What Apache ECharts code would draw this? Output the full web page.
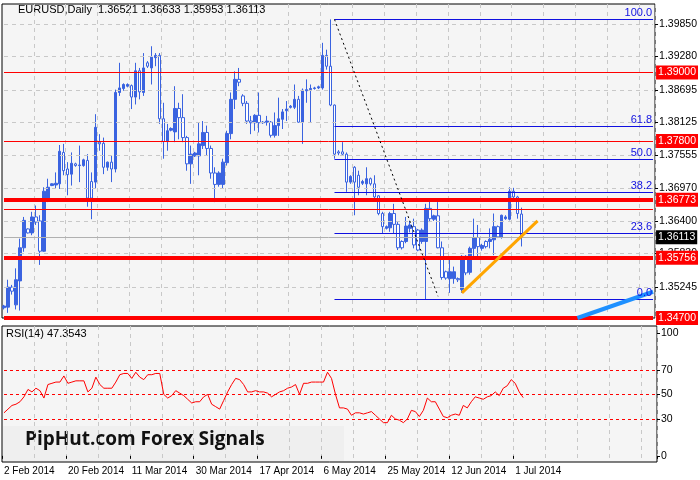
<!DOCTYPE html>
<html>
<head>
<meta charset="utf-8">
<script src="https://cdn.jsdelivr.net/npm/echarts@6/dist/echarts.min.js"></script>
<style>html,body{margin:0;padding:0;background:#fff}#c{width:700px;height:480px}</style>
</head>
<body>
<div id="c"></div>
<script>
// EURUSD daily, [open, close, low, high]
var candles = [
[1.3488,1.3491,1.3485,1.3493],[1.3489,1.3524,1.3479,1.3537],[1.3524,1.3517,1.3511,1.3528],[1.3493,1.3537,1.3485,1.3557],
[1.3535,1.3593,1.3483,1.3609],[1.3593,1.3641,1.3586,1.3647],[1.3626,1.3619,1.3618,1.3627],[1.3619,1.3647,1.3615,1.3656],
[1.3647,1.3638,1.3633,1.3667],[1.3640,1.3587,1.3563,1.3650],[1.3587,1.3692,1.3586,1.3699],[1.3679,1.3699,1.3673,1.3714],
[1.3702,1.3705,1.3701,1.3706],[1.3703,1.3706,1.3696,1.3725],[1.3705,1.3762,1.3696,1.3773],[1.3760,1.3728,1.3720,1.3775],
[1.3731,1.3721,1.3685,1.3743],[1.3722,1.3741,1.3702,1.3760],[1.3740,1.3737,1.3735,1.3742],[1.3737,1.3738,1.3708,1.3772],
[1.3737,1.3747,1.3735,1.3749],[1.3746,1.3680,1.3665,1.3757],[1.3709,1.3680,1.3643,1.3725],[1.3708,1.3804,1.3696,1.3827],
[1.3778,1.3775,1.3763,1.3792],[1.3776,1.3734,1.3722,1.3786],[1.3734,1.3743,1.3728,1.3744],[1.3743,1.3731,1.3708,1.3754],
[1.3731,1.3865,1.3725,1.3870],[1.3865,1.3873,1.3859,1.3917],[1.3872,1.3879,1.3868,1.3881],[1.3876,1.3879,1.3874,1.3881],
[1.3877,1.3857,1.3836,1.3879],[1.3857,1.3903,1.3844,1.3917],[1.3903,1.3866,1.3853,1.3908],[1.3865,1.3908,1.3859,1.3934],
[1.3917,1.3911,1.3908,1.3920],[1.3908,1.3927,1.3879,1.3946],[1.3926,1.3930,1.3911,1.3934],[1.3930,1.3819,1.3810,1.3934],
[1.3819,1.3779,1.3749,1.3847],[1.3779,1.3798,1.3763,1.3810],[1.3799,1.3802,1.3797,1.3804],[1.3796,1.3837,1.3778,1.3876],
[1.3837,1.3821,1.3783,1.3847],[1.3821,1.3786,1.3778,1.3862],[1.3786,1.3740,1.3728,1.3789],[1.3740,1.3757,1.3705,1.3772],
[1.3754,1.3759,1.3752,1.3761],[1.3754,1.3775,1.3720,1.3812],[1.3772,1.3795,1.3766,1.3815],[1.3795,1.3767,1.3754,1.3807],
[1.3767,1.3724,1.3714,1.3772],[1.3724,1.3704,1.3673,1.3734],[1.3704,1.3724,1.3700,1.3727],[1.3704,1.3743,1.3696,1.3749],
[1.3742,1.3793,1.3737,1.3798],[1.3793,1.3853,1.3783,1.3865],[1.3853,1.3888,1.3836,1.3902],[1.3888,1.3883,1.3876,1.3908],
[1.3859,1.3846,1.3841,1.3862],[1.3846,1.3815,1.3810,1.3850],[1.3815,1.3812,1.3792,1.3824],[1.3812,1.3825,1.3798,1.3827],
[1.3825,1.3812,1.3795,1.3865],[1.3812,1.3813,1.3810,1.3815],[1.3813,1.3815,1.3807,1.3824],[1.3813,1.3790,1.3786,1.3815],
[1.3790,1.3807,1.3786,1.3830],[1.3807,1.3819,1.3789,1.3856],[1.3818,1.3831,1.3801,1.3836],[1.3833,1.3836,1.3815,1.3850],
[1.3839,1.3841,1.3837,1.3843],[1.3839,1.3853,1.3836,1.3879],[1.3853,1.3813,1.3812,1.3859],[1.3813,1.3869,1.3775,1.3872],
[1.3868,1.3870,1.3847,1.3888],[1.3870,1.3872,1.3812,1.3879],[1.3872,1.3873,1.3870,1.3875],[1.3873,1.3875,1.3871,1.3877],
[1.3873,1.3930,1.3870,1.3952],[1.3930,1.3911,1.3905,1.3940],[1.3911,1.3843,1.3841,1.3993],[1.3843,1.3757,1.3749,1.3844],
[1.3761,1.3759,1.3755,1.3764],[1.3761,1.3757,1.3754,1.3778],[1.3757,1.3708,1.3691,1.3760],[1.3708,1.3718,1.3705,1.3720],
[1.3734,1.3708,1.3650,1.3736],[1.3720,1.3699,1.3685,1.3728],[1.3706,1.3709,1.3703,1.3712],[1.3705,1.3714,1.3685,1.3734],
[1.3714,1.3705,1.3702,1.3716],[1.3705,1.3682,1.3679,1.3720],[1.3684,1.3653,1.3650,1.3685],[1.3653,1.3630,1.3618,1.3656],
[1.3627,1.3630,1.3625,1.3632],[1.3628,1.3653,1.3621,1.3656],[1.3653,1.3634,1.3618,1.3670],[1.3634,1.3593,1.3589,1.3638],
[1.3604,1.3593,1.3590,1.3606],[1.3604,1.3631,1.3601,1.3647],[1.3627,1.3633,1.3620,1.3640],[1.3630,1.3598,1.3592,1.3644],
[1.3624,1.3589,1.3587,1.3626],[1.3604,1.3624,1.3600,1.3627],[1.3604,1.3662,1.3503,1.3670],[1.3662,1.3644,1.3638,1.3676],
[1.3643,1.3649,1.3640,1.3651],[1.3649,1.3593,1.3592,1.3673],[1.3593,1.3541,1.3537,1.3604],[1.3551,1.3540,1.3537,1.3553],
[1.3539,1.3551,1.3514,1.3572],[1.3539,1.3551,1.3530,1.3560],[1.3539,1.3537,1.3533,1.3541],[1.3520,1.3578,1.3514,1.3580],
[1.3578,1.3549,1.3545,1.3580],[1.3550,1.3592,1.3546,1.3595],[1.3592,1.3611,1.3575,1.3644],[1.3611,1.3595,1.3575,1.3633],
[1.3592,1.3597,1.3588,1.3600],[1.3604,1.3595,1.3592,1.3606],[1.3604,1.3608,1.3592,1.3627],[1.3607,1.3630,1.3580,1.3653],
[1.3630,1.3612,1.3610,1.3632],[1.3611,1.3650,1.3609,1.3651],[1.3644,1.3647,1.3642,1.3650],[1.3643,1.3692,1.3641,1.3699],
[1.3692,1.3682,1.3679,1.3698],[1.3682,1.3653,1.3644,1.3684],[1.36521,1.36113,1.35953,1.36633]
];
var rsi = [35,38,41,42,44,48,54,52,55,53,47,58,59,60,60,65,59,60,61,61,61,52,55,64,58,55,55,55,60,66,
67,67,63,68,64,62,66,66,67,67,50,47,49,53,51,49,46,43,44,44,48,50,42,40,38,45,52,58,63,62,
58,52,52,53,52,52,51,48,50,52,53,55,56,58,50,59,59,60,60,60,60,68,63,50,39,39,38,33,35,35,
34,35,36,33,30,27,27,33,30,29,27,30,37,36,32,37,47,44,44,38,32,31,33,34,33,41,39,44,48,47,
46,48,49,52,49,55,57,62,59,52,47.3543];
var priceTicks = [1.39850,1.39280,1.38695,1.38125,1.37555,1.36970,1.36400,1.35830,1.35245];
var supportLevels = [[1.39000,1],[1.37800,1],[1.36600,1],[1.36773,4],[1.35756,4],[1.34700,4]];
var fibHigh = 1.3993, fibLow = 1.3503, fibStart = 83;
var fibPct = [100.0,61.8,50.0,38.2,23.6,0.0];
var lastPrice = 1.36113;
var rsiLevels = [30,50,70];

var months = ['Jan','Feb','Mar','Apr','May','Jun','Jul','Aug','Sep','Oct','Nov','Dec'];
var dates = [];
var d = new Date(2014,1,2);
while (dates.length < 164) {
  if (d.getDay() !== 6) dates.push(d.getDate() + ' ' + months[d.getMonth()] + ' ' + d.getFullYear());
  d.setDate(d.getDate() + 1);
}
var lastIdx = dates.length - 1;

var blue = '#3a63e0';
var boxLabel = function (txt, bg) {
  return {show: true, position: 'end', formatter: txt, backgroundColor: bg, color: '#fff',
    padding: [2,2,1,2], fontSize: 10.5, fontFamily: 'Liberation Sans', distance: 3};
};
// horizontal line across the whole price pane
var hline = function (p, style, label) {
  return [{coord: [0, p], lineStyle: style, label: label || {show: false}}, {coord: [lastIdx, p]}];
};

var ml = [];
priceTicks.forEach(function (p) {
  ml.push(hline(p, {color: '#c8c8c8', type: [4,4], width: 1}));
});
fibPct.forEach(function (f) {
  var p = fibLow + (fibHigh - fibLow) * f / 100;
  ml.push([{coord: [fibStart, p], lineStyle: {color: '#1010e0', width: 1, type: 'solid'},
            label: {show: true, position: 'insideEndTop', formatter: f.toFixed(1), color: '#1010e0', fontSize: 11, distance: 1}},
           {coord: [lastIdx, p]}]);
});
ml.push(hline(lastPrice, {color: '#b0b0b0', width: 1, type: 'solid'}, boxLabel(lastPrice.toFixed(5), '#000')));
supportLevels.forEach(function (s) {
  ml.push(hline(s[0], {color: '#ff0000', width: s[1], type: 'solid'},
    s[0] === 1.366 ? null : boxLabel(s[0].toFixed(5), '#ff0000')));
});
ml.push([{coord: [83, 1.3993], lineStyle: {color: '#000', type: [2,3], width: 1}, label: {show: false}}, {coord: [109, 1.3508]}]);
ml.push([{coord: [115, 1.3514], lineStyle: {color: '#ffa500', type: 'solid', width: 3}, label: {show: false}}, {coord: [134, 1.3640]}]);
ml.push([{coord: [144, 1.3470], lineStyle: {color: '#1e90ff', type: 'solid', width: 4}, label: {show: false}}, {coord: [lastIdx, 1.3516]}]);

var rsiMl = rsiLevels.map(function (v) {
  return [{coord: [0, v], lineStyle: {color: '#ff0000', type: [3,3], width: 1}, label: {show: false}}, {coord: [lastIdx, v]}];
});

var chart = echarts.init(document.getElementById('c'));
chart.setOption({
  animation: false,
  backgroundColor: '#ffffff',
  textStyle: {fontFamily: 'Liberation Sans'},
  grid: [
    {left: 2, right: 43, top: 4, height: 314, show: true, backgroundColor: '#f5f5f5', borderColor: '#000', borderWidth: 1},
    {left: 2, right: 43, top: 326, height: 136, show: true, backgroundColor: '#f5f5f5', borderColor: '#000', borderWidth: 1}
  ],
  xAxis: [
    {type: 'category', gridIndex: 0, data: dates, axisLine: {show: false}, axisTick: {show: false}, axisLabel: {show: false},
     splitLine: {show: true, interval: function (i) { return i > 0 && i % 8 === 0; }, lineStyle: {color: '#c8c8c8', type: [4,4]}}},
    {type: 'category', gridIndex: 1, data: dates, axisLine: {show: false},
     axisTick: {show: true, interval: function (i) { return i % 16 === 0 && i <= 130; }, length: 3, lineStyle: {color: '#000'}},
     axisLabel: {interval: function (i) { return i % 16 === 0 && i <= 130; }, align: 'left', color: '#000', fontSize: 10, margin: 4},
     splitLine: {show: true, interval: function (i) { return i > 0 && i % 8 === 0; }, lineStyle: {color: '#c8c8c8', type: [4,4]}}}
  ],
  yAxis: [
    {type: 'value', gridIndex: 0, position: 'right', min: 1.3470, max: 1.4020,
     axisLine: {show: false}, splitLine: {show: false},
     axisTick: {show: true, customValues: priceTicks, length: 3, lineStyle: {color: '#000'}},
     axisLabel: {customValues: priceTicks, formatter: function (v) { return v.toFixed(5); }, color: '#000', fontSize: 10.5, margin: 4}},
    {type: 'value', gridIndex: 1, position: 'right', min: -5, max: 105.6,
     axisLine: {show: false}, splitLine: {show: false},
     axisTick: {show: true, customValues: [0,30,50,70,100], length: 3, lineStyle: {color: '#000'}},
     axisLabel: {customValues: [0,30,50,70,100], color: '#000', fontSize: 10.5, margin: 4}}
  ],
  series: [
    {type: 'candlestick', xAxisIndex: 0, yAxisIndex: 0, data: candles, barWidth: 3,
     itemStyle: {color: blue, color0: '#ffffff', borderColor: blue, borderColor0: blue, borderWidth: 1},
     markLine: {symbol: 'none', silent: true, animation: false, data: ml}},
    {type: 'line', xAxisIndex: 1, yAxisIndex: 1, data: rsi, symbol: 'none', lineStyle: {color: '#ff0000', width: 1},
     markLine: {symbol: 'none', silent: true, animation: false, data: rsiMl}}
  ],
  graphic: [
    {type: 'text', left: 18, top: 4, style: {text: 'EURUSD,Daily  1.36521 1.36633 1.35953 1.36113', font: '11px Liberation Sans', fill: '#000'}},
    {type: 'text', left: 6, top: 328, style: {text: 'RSI(14) 47.3543', font: '11px Liberation Sans', fill: '#000'}},
    {type: 'rect', shape: {x: 3, y: 426, width: 341, height: 35}, style: {fill: 'rgba(238,238,238,0.8)'}},
    {type: 'text', left: 25, top: 430, style: {text: 'PipHut.com Forex Signals', font: 'bold 19px Open Sans', fill: '#111'}}
  ]
});
</script>
</body>
</html>
